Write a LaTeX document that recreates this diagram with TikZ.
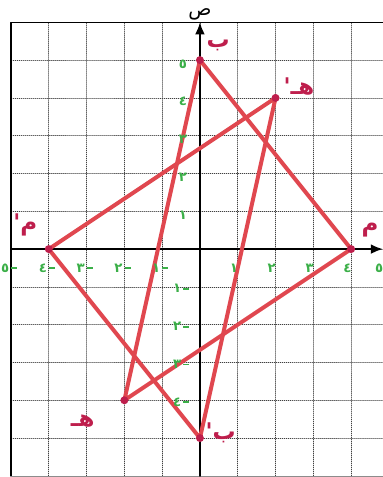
\documentclass[tikz,border=0pt]{standalone}
\usepackage{fontspec}
\usepackage{xcolor}
\usepackage{tikz}
\usetikzlibrary{arrows.meta}
\TeXXeTstate=1
\newfontfamily\arabicfont[Script=Arabic]{DejaVu Sans}
\definecolor{tricol}{HTML}{E0474F}
\definecolor{ptcol}{HTML}{BE1E4C}
\definecolor{numcol}{HTML}{3BAF48}
\newcommand{\neglab}[1]{#1\kern1.5pt\rule[0.45ex]{0.45em}{1.3pt}}
\tikzset{ptlabel/.style={color=ptcol,font=\arabicfont\bfseries\LARGE},
         numlabel/.style={color=numcol,font=\arabicfont\bfseries,inner sep=0pt},
         tri/.style={color=tricol,line width=3pt}}

\begin{document}
\begin{tikzpicture}[line cap=round,line join=round,>=Latex,x=1cm,y=1cm]
                \useasboundingbox (-5.29,-6.03) rectangle (4.84,6.59);
                % grid and frame
                \draw [densely dotted, line width=0.5pt, black!75] (-5,-6) grid (4.84,6);
                \draw [line width=0.9pt] (-5,-6)-- (-5,6)-- (4.84,6);
                \draw [line width=0.5pt, black!45] (-5,-6)-- (4.84,-6);
                % axes
                \draw [line width=1.4pt,-{Latex[length=3.2mm,width=2.6mm]}] (-5,0)-- (4.84,0);
                \draw [line width=1.4pt,-{Latex[length=3.2mm,width=2.6mm]}] (0,-6)-- (0,6);
                \node (ylab) at (0,6.22) {\arabicfont\Large ص};
                % vertices
                \coordinate (B) at (0,5);
                \coordinate (M) at (4,0);
                \coordinate (H) at (-2,-4);
                \coordinate (B1) at (0,-5);
                \coordinate (M1) at (-4,0);
                \coordinate (H1) at (2,4);
                \draw [tri] (B)-- (M)-- (H)-- cycle;
                \draw [tri] (B1)-- (M1)-- (H1)-- cycle;
                \foreach \p in {B,M,H,B1,M1,H1}
                    \fill [ptcol] (\p) circle (3pt);
                % axis numbers
                \foreach \v/\d in {1/١,2/٢,3/٣,4/٤} {
                    \node [numlabel] (xp\v) at (\v-0.1,-0.5) {\d};
                }
                \node [numlabel] (xp5) at (4.74,-0.5) {٥};
                \foreach \v/\d in {1/١,2/٢,3/٣,4/٤,5/٥} {
                    \node [numlabel] (xn\v) at (-\v-0.05,-0.5) {\neglab{\d}};
                    \node [numlabel] (yp\v) at (-0.45,\v-0.1) {\d};
                }
                \foreach \v/\d in {1/١,2/٢,3/٣,4/٤} {
                    \node [numlabel] (yn\v) at (-0.5,-\v-0.05) {\neglab{\d}};
                }
                % point labels
                \node [ptlabel] (lB) at (0.48,5.4) {\beginR ب\endR};
                \node [ptlabel] (lH1) at (2.62,4.3) {\beginR هـ'\endR};
                \node [ptlabel] (lM) at (4.5,0.5) {\beginR م\endR};
                \node [ptlabel] (lM1) at (-4.62,0.65) {\beginR م'\endR};
                \node [ptlabel] (lH) at (-3.1,-4.55) {\beginR هـ\endR};
                \node [ptlabel] (lB1) at (0.55,-4.85) {\beginR ب'\endR};
\end{tikzpicture}
\end{document}
